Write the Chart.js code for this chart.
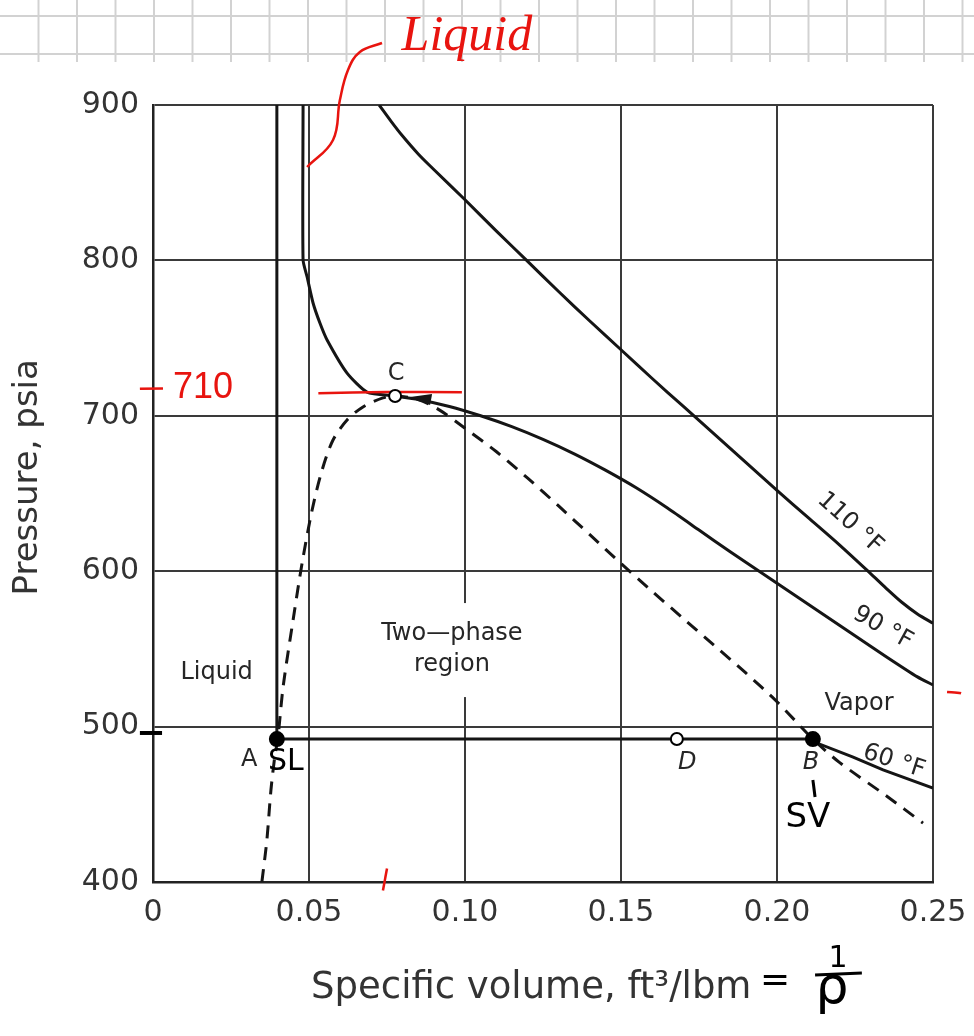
<!DOCTYPE html>
<html>
<head>
<meta charset="utf-8">
<script src="https://cdn.jsdelivr.net/npm/chart.js@4.4.1/dist/chart.umd.min.js"></script>
<style>
	body { margin: 0; background: #fff; }
	#pvChart { display: block; }
</style>
</head>
<body>
<canvas id="pvChart" width="974" height="1036"></canvas>
<script>
// Axis ticks
const xTickValues = [0, 0.05, 0.10, 0.15, 0.20, 0.25];
const xTickLabels = ["0", "0.05", "0.10", "0.15", "0.20", "0.25"];
const yTickValues = [400, 500, 600, 700, 800, 900];
const yTickLabels = ["400", "500", "600", "700", "800", "900"];

// 110 °F isotherm: specific volume (ft3/lbm) and pressure (psia)
const iso110V = [0.0725, 0.0765, 0.080, 0.085, 0.090, 0.100, 0.110, 0.120, 0.130, 0.140, 0.150, 0.160, 0.170, 0.180, 0.190, 0.200, 0.210, 0.220, 0.230, 0.235, 0.240, 0.245, 0.250];
const iso110P = [900, 889, 880, 868.5, 858.5, 839, 819, 799.5, 780, 761, 742.5, 724, 706, 688, 670, 652, 634.5, 617, 598.5, 589, 580, 572.5, 566.5];

// 90 °F isotherm (liquid branch, then through the critical point C)
const iso90V = [0.0481, 0.0481, 0.0494, 0.0513, 0.0535, 0.0558, 0.0622, 0.0686, 0.0776, 0.085, 0.095, 0.105, 0.115, 0.125, 0.135, 0.145, 0.155, 0.165, 0.175, 0.185, 0.195, 0.205, 0.215, 0.225, 0.235, 0.245, 0.250];
const iso90P = [900, 800.3, 789.3, 772.6, 759.7, 748.8, 727.5, 715.3, 712.7, 710.5, 706, 700, 693, 684.8, 675.5, 665, 653.5, 640.5, 626.5, 612.5, 599, 585.5, 572, 558.5, 545, 532, 526.8];

// 60 °F isotherm (liquid branch, tie line A-B, vapor branch)
const iso60V = [0.0397, 0.0397, 0.2115, 0.2128, 0.2244, 0.2340, 0.2500];
const iso60P = [900, 492, 492, 489.4, 480.4, 472.1, 460.5];

// Saturation envelope (dashed)
const domeV = [0.0349, 0.0365, 0.0378, 0.0391, 0.0400, 0.0417, 0.0449, 0.0478, 0.0510, 0.0542, 0.0577, 0.0622, 0.0673, 0.0737, 0.0776, 0.085, 0.092, 0.100, 0.110, 0.120, 0.130, 0.140, 0.150, 0.160, 0.170, 0.180, 0.190, 0.200, 0.2115, 0.220, 0.235, 0.2468];
const domeP = [400, 427, 459.2, 481.7, 492, 525.5, 568.6, 605.3, 639.4, 665.1, 684.4, 697.3, 705.7, 711.5, 712.7, 710.5, 703.5, 692, 677, 660, 642, 623.5, 605, 587, 569.5, 552, 534.5, 516, 492, 477, 455.5, 437.9];

// Marked states
const stateNames = ["A", "B", "C", "D"];
const stateV = [0.0397, 0.2115, 0.0776, 0.1679];
const stateP = [492, 492, 712.7, 492];

// Handwritten notes on the figure
const leaderV = [0.0494, 0.0577, 0.0599, 0.0625, 0.0663, 0.0734];
const leaderP = [860.1, 877.5, 903.2, 922.5, 934.1, 939.9];
const line710V = [0.053, 0.075, 0.099];
const line710P = [714.5, 715.3, 715.2];
const dash710V = [-0.0042, 0.0032];
const dash710P = [717.4, 717.6];
const tickMarkV = [0.0750, 0.0737];
const tickMarkP = [408.7, 394.5];
const rightMarkV = [0.2545, 0.2590, 0.2631];
const rightMarkP = [522.3, 521.5, 517.1];
const dash500V = [-0.0042, 0.0029];
const dash500P = [495.9, 495.9];
const svLeaderV = [0.2115, 0.2122];
const svLeaderP = [465.6, 454.7];
const fracBarV = [0.2122, 0.2272];
const fracBarP = [340.2, 341.5];

function toPoints(vs, ps) {
	return vs.map((v, i) => ({ x: v, y: ps[i] }));
}

const INK = "#151515";
const RED = "#e8140f";

function curve(points, extra) {
	return Object.assign({
		data: points,
		showLine: true,
		pointRadius: 0,
		borderColor: INK,
		borderWidth: 3,
		tension: 0.3,
		fill: false,
	}, extra || {});
}

// Printed labels and hand notes
const figureLabels = {
	id: "figureLabels",
	beforeDraw(chart) {
		const ctx = chart.ctx;
		ctx.save();
		ctx.fillStyle = "#fff";
		ctx.fillRect(0, 0, chart.width, chart.height);
		// notebook grid paper at the top
		ctx.strokeStyle = "#d2d2d2";
		ctx.lineWidth = 2;
		for (let gx = 38.5; gx < chart.width; gx += 38.5) {
			ctx.beginPath();
			ctx.moveTo(gx, 0);
			ctx.lineTo(gx, 62);
			ctx.stroke();
		}
		[16, 54].forEach((gy) => {
			ctx.beginPath();
			ctx.moveTo(0, gy);
			ctx.lineTo(chart.width, gy);
			ctx.stroke();
		});
		ctx.restore();
	},
	beforeDatasetsDraw(chart) {
		const { ctx, scales: { x, y } } = chart;
		ctx.save();
		// the 0.10 grid line is broken behind the region label
		const l = x.getPixelForValue(0.072), r = x.getPixelForValue(0.121);
		const t = y.getPixelForValue(579.5), b = y.getPixelForValue(519);
		ctx.fillStyle = "#fff";
		ctx.fillRect(l, t, r - l, b - t);

		const printed = [
			{ t: "Two—phase", v: 0.0958, p: 559.6 },
			{ t: "region", v: 0.0958, p: 539.6 },
			{ t: "Liquid", v: 0.0204, p: 534.5 },
			{ t: "Vapor", v: 0.2263, p: 514.5 },
			{ t: "C", v: 0.0779, p: 726.9 },
			{ t: "A", v: 0.0308, p: 478.5 },
			{ t: "D", v: 0.1712, p: 476.6, italic: true },
			{ t: "B", v: 0.2109, p: 476.6, italic: true },
			{ t: "110 °F", v: 0.2234, p: 631.0, rot: 42 },
			{ t: "90 °F", v: 0.2339, p: 563.5, rot: 29 },
			{ t: "60 °F", v: 0.2375, p: 477.5, rot: 18 },
		];
		ctx.fillStyle = "#262626";
		ctx.textAlign = "center";
		ctx.textBaseline = "middle";
		printed.forEach((lab) => {
			ctx.save();
			ctx.translate(x.getPixelForValue(lab.v), y.getPixelForValue(lab.p));
			if (lab.rot) ctx.rotate(lab.rot * Math.PI / 180);
			ctx.font = (lab.italic ? "italic " : "") + "24px 'DejaVu Sans'";
			ctx.fillText(lab.t, 0, 0);
			ctx.restore();
		});
		ctx.restore();
	},
	afterDatasetsDraw(chart) {
		const { ctx, scales: { x, y } } = chart;
		ctx.save();
		// arrow head on the 90 °F line pointing at C
		const ax = x.getPixelForValue(0.0824), ay = y.getPixelForValue(712.1);
		ctx.fillStyle = INK;
		ctx.beginPath();
		ctx.moveTo(ax, ay);
		ctx.lineTo(ax + 22, ay - 3);
		ctx.lineTo(ax + 20, ay + 8);
		ctx.closePath();
		ctx.fill();
		ctx.restore();
	},
	afterDraw(chart) {
		const { ctx, scales: { x, y } } = chart;
		const put = (str, v, p, font, color, baseline) => {
			ctx.font = font;
			ctx.fillStyle = color;
			ctx.textAlign = "center";
			ctx.textBaseline = baseline || "middle";
			ctx.fillText(str, x.getPixelForValue(v), y.getPixelForValue(p));
		};
		ctx.save();
		put("Liquid", 0.1006, 935.4, "italic 50px 'Liberation Serif'", RED, "alphabetic");
		put("710", 0.016, 711.5, "36px 'Liberation Sans'", RED, "alphabetic");
		put("SL", 0.0426, 477.2, "30px 'DejaVu Sans'", "#000");
		put("SV", 0.2099, 441.2, "34px 'DejaVu Sans'", "#000");
		put("=", 0.1994, 335.6, "36px 'DejaVu Sans'", "#000");
		put("1", 0.2196, 350.5, "30px 'DejaVu Sans'", "#000");
		put("ρ", 0.2176, 322.1, "52px 'DejaVu Sans'", "#000", "alphabetic");
		ctx.restore();
	},
};

const pointColors = stateNames.map((n) => (n === "A" || n === "B" ? "#000" : "#fff"));
const pointSizes = stateNames.map((n) => (n === "A" || n === "B" ? 7 : 6));

const chartConfig = {
	type: "scatter",
	data: {
		datasets: [
			{
				label: "States",
				data: toPoints(stateV, stateP),
				pointRadius: pointSizes,
				pointBackgroundColor: pointColors,
				pointBorderColor: "#000",
				pointBorderWidth: 2,
				showLine: false,
			},
			curve(toPoints(leaderV, leaderP), { borderColor: RED, borderWidth: 2.5, tension: 0.4, clip: false }),
			curve(toPoints(line710V, line710P), { borderColor: RED, borderWidth: 2.5, tension: 0.3 }),
			curve(toPoints(dash710V, dash710P), { borderColor: RED, borderWidth: 2.5, tension: 0, clip: false }),
			curve(toPoints(tickMarkV, tickMarkP), { borderColor: RED, borderWidth: 2.5, tension: 0, clip: false }),
			curve(toPoints(rightMarkV, rightMarkP), { borderColor: RED, borderWidth: 2.5, tension: 0.3, clip: false }),
			curve(toPoints(dash500V, dash500P), { borderColor: "#000", borderWidth: 4, tension: 0, clip: false }),
			curve(toPoints(svLeaderV, svLeaderP), { borderColor: "#000", borderWidth: 3, tension: 0, clip: false }),
			curve(toPoints(fracBarV, fracBarP), { borderColor: "#000", borderWidth: 3, tension: 0, clip: false }),
			curve(toPoints(iso110V, iso110P), { label: "110 °F" }),
			curve(toPoints(iso90V, iso90P), { label: "90 °F", tension: 0.2 }),
			curve(toPoints(iso60V, iso60P), { label: "60 °F", tension: 0 }),
			curve(toPoints(domeV, domeP), { label: "Saturation", borderDash: [13, 9], tension: 0.3 }),
		],
	},
	options: {
		responsive: false,
		animation: false,
		devicePixelRatio: 1,
		layout: { padding: { top: 105, right: 41, bottom: 0, left: 0 } },
		elements: { line: { capBezierPoints: false } },
		plugins: {
			legend: { display: false },
			tooltip: { enabled: false },
		},
		scales: {
			x: {
				type: "linear",
				min: 0,
				max: 0.25,
				afterFit: (scale) => {
					scale.height = 154;
					scale.paddingLeft = 0;
					scale.paddingRight = 0;
				},
				afterBuildTicks: (scale) => { scale.ticks = xTickValues.map((v) => ({ value: v })); },
				grid: { color: "#3a3a3a", lineWidth: 2, drawTicks: false },
				border: { color: "#222", width: 2.5 },
				ticks: {
					color: "#333",
					font: { family: "DejaVu Sans", size: 30 },
					padding: 13,
					maxRotation: 0,
					autoSkip: false,
					callback: (value, index) => xTickLabels[index],
				},
				title: {
					display: true,
					text: "Specific volume, ft³/lbm  ",
					color: "#333",
					font: { family: "DejaVu Sans", size: 37 },
					padding: { top: 0, bottom: 25 },
				},
			},
			y: {
				type: "linear",
				min: 400,
				max: 900,
				afterFit: (scale) => { scale.width = 153; },
				afterBuildTicks: (scale) => { scale.ticks = yTickValues.map((v) => ({ value: v })); },
				grid: { color: "#3a3a3a", lineWidth: 2, drawTicks: false },
				border: { color: "#222", width: 2.5 },
				ticks: {
					color: "#333",
					font: { family: "DejaVu Sans", size: 30 },
					padding: 14,
					autoSkip: false,
					callback: (value, index) => yTickLabels[index],
				},
				title: {
					display: true,
					text: "   Pressure, psia",
					color: "#333",
					font: { family: "DejaVu Sans", size: 34 },
					padding: { top: 8, bottom: 0 },
				},
			},
		},
	},
	plugins: [figureLabels],
};

const pvChart = new Chart(document.getElementById("pvChart"), chartConfig);
</script>
</body>
</html>
